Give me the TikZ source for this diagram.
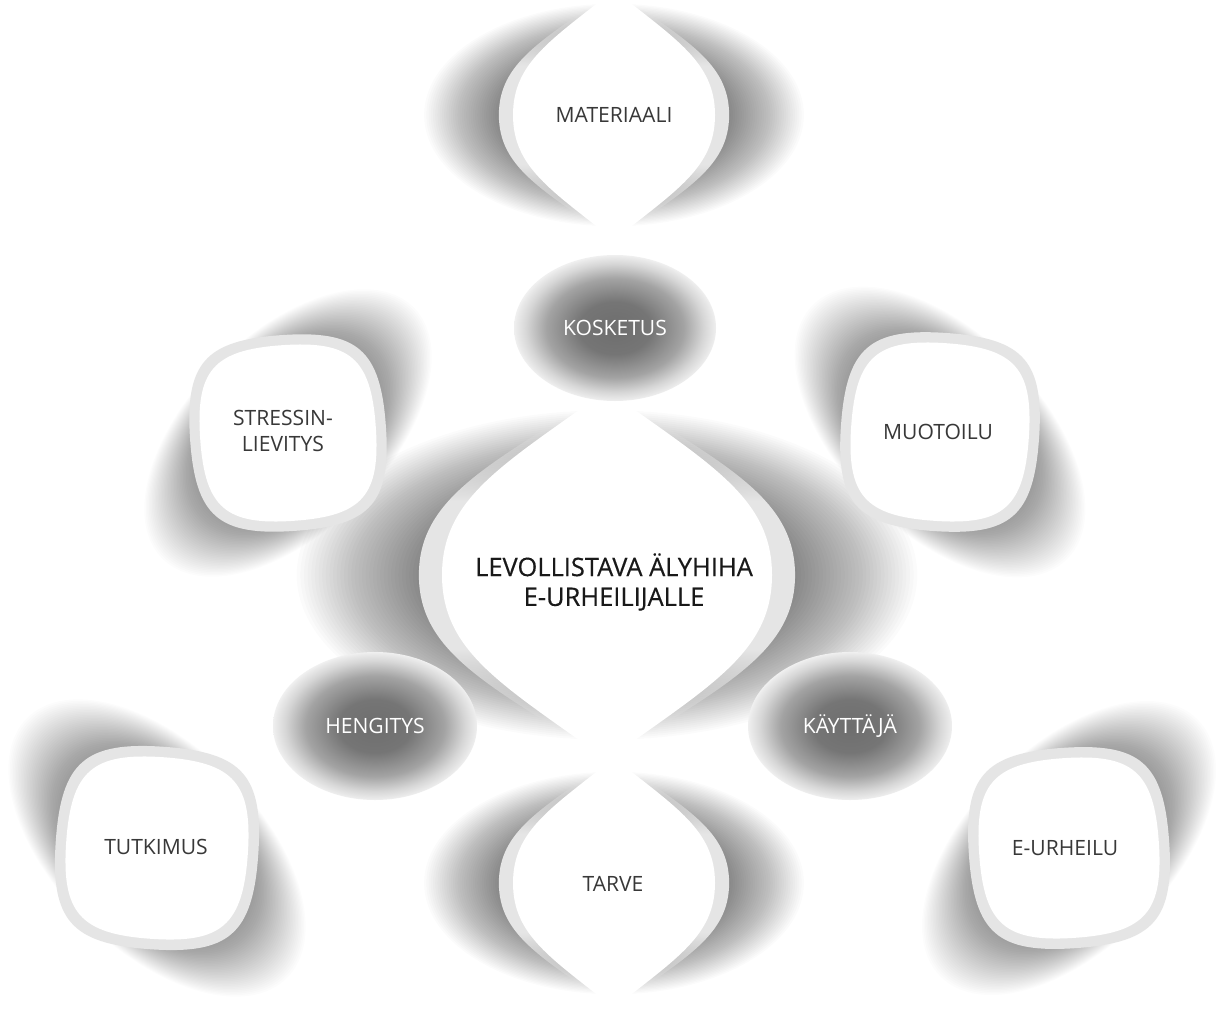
\documentclass[tikz,border=0pt]{standalone}
\usepackage{fontspec}
\setmainfont{Open Sans}
\newfontfamily\hubfont[FakeBold=0.35]{Open Sans}
\usetikzlibrary{fadings}

\definecolor{ringgray}{HTML}{E5E5E5}
\definecolor{labelgray}{HTML}{383838}

\pgfdeclareradialshading{darkglow}{\pgfpointorigin}{color(0bp)=(black!57); color(9bp)=(black!54); color(17bp)=(black!36); color(22bp)=(black!16); color(24.5bp)=(black!8); color(25bp)=(black!6); color(50bp)=(black!6)}
% ring of a lens fades out towards its tips
\pgfdeclareverticalshading{tipshade}{100bp}{color(0bp)=(black); color(29bp)=(black); color(40bp)=(white); color(60bp)=(white); color(71bp)=(black); color(100bp)=(black)}
\pgfdeclarefading{tipfade}{\pgfuseshading{tipshade}}

% unit outlines of the blobs
\newcommand{\lenspath}{(0,-1) .. controls (-0.62,-0.6) and (-1,-0.42) .. (-1,0)
  .. controls (-1,0.42) and (-0.62,0.6) .. (0,1)
  .. controls (0.62,0.6) and (1,0.42) .. (1,0)
  .. controls (1,-0.42) and (0.62,-0.6) .. (0,-1) -- cycle}
\newcommand{\squirclepath}{(1,0) .. controls (1,0.78) and (0.78,1) .. (0,1)
  .. controls (-0.78,1) and (-1,0.78) .. (-1,0)
  .. controls (-1,-0.78) and (-0.78,-1) .. (0,-1)
  .. controls (0.78,-1) and (1,-0.78) .. (1,0) -- cycle}

% lens: centre x, centre y, half width, half height
\newcommand{\lensshadow}[4]{%
  \foreach \i in {1,...,40}{%
    \pgfmathsetmacro\sx{#3*(1.0+0.022*\i)}%
    \pgfmathsetmacro\sy{#4*(0.47+0.0105*\i)}%
    \fill[black, opacity=0.014] (#1,#2) ellipse [x radius=\sx, y radius=\sy];
  }}
\newcommand{\lensbody}[4]{%
  \pgfmathsetmacro\sx{#3*1.14}%
  \fill[ringgray, path fading=tipfade, shift={(#1,#2)}, xscale=\sx, yscale=#4] \lenspath;
  \fill[white, shift={(#1,#2)}, xscale=#3, yscale=#4] \lenspath;}

% squircle: centre x, centre y, half size, shadow diagonal, tilt
\newcommand{\sqshadow}[5]{%
  \foreach \i in {1,...,40}{%
    \pgfmathsetmacro\sa{#3*(1.1+0.023*\i)}%
    \pgfmathsetmacro\sb{#3*(0.8+0.008*\i)}%
    \fill[black, opacity=0.013, shift={(#1,#2)}, rotate=#4] (0,0) ellipse [x radius=\sa, y radius=\sb];
  }}
\newcommand{\sqbody}[4]{%
  \pgfmathsetmacro\sa{#3*1.115}%
  \fill[ringgray, shift={(#1,#2)}, rotate=#4, scale=\sa] \squirclepath;
  \fill[white, shift={(#1,#2)}, rotate=#4, scale=#3] \squirclepath;}

\begin{document}
\begin{tikzpicture}[x=0.02cm, y=-0.02cm,
  sat/.style={text=labelgray, font=\fontsize{12}{15}\selectfont, align=center},
  dim/.style={text=white, font=\fontsize{12}{15}\selectfont},
  hub/.style={text=black!90, font=\hubfont\fontsize{14.5}{17}\selectfont, align=center}]
\useasboundingbox (0,0) rectangle (1219,1010);
\fill[white] (0,0) rectangle (1219,1010);

% soft shadows
\lensshadow{607}{575}{165}{185}
\lensshadow{614}{115}{101}{125}
\lensshadow{614}{883}{101}{125}
\sqshadow{288}{433}{88}{45}{4}
\sqshadow{940}{432}{89}{-45}{-4}
\sqshadow{157}{848}{91}{-45}{-4}
\sqshadow{1069}{848}{90}{45}{4}

% blobs
\lensbody{607}{575}{165}{185}
\lensbody{614}{115}{101}{125}
\lensbody{614}{883}{101}{125}
\sqbody{288}{433}{88}{4}
\sqbody{940}{432}{89}{-4}
\sqbody{157}{848}{91}{-4}
\sqbody{1069}{848}{90}{4}

% dark ellipses
\shade[shading=darkglow] (615,328) ellipse [x radius=101, y radius=73];
\shade[shading=darkglow] (375,726) ellipse [x radius=102, y radius=74];
\shade[shading=darkglow] (850,726) ellipse [x radius=102, y radius=74];

\node[sat] (materiaali) at (614,115) {MATERIAALI};
\node[dim] (kosketus) at (615,328) {KOSKETUS};
\node[sat] (stressi) at (283,431) {STRESSIN-\\LIEVITYS};
\node[sat] (muotoilu) at (938,432) {MUOTOILU};
\node[hub] (hiha) at (614,582) {LEVOLLISTAVA ÄLYHIHA\\E-URHEILIJALLE};
\node[dim] (hengitys) at (375,726) {HENGITYS};
\node[dim] (kayttaja) at (850,726) {KÄYTTÄJÄ};
\node[sat] (tutkimus) at (156,847) {TUTKIMUS};
\node[sat] (tarve) at (613,884) {TARVE};
\node[sat] (eurheilu) at (1065,848) {E-URHEILU};
\end{tikzpicture}
\end{document}
